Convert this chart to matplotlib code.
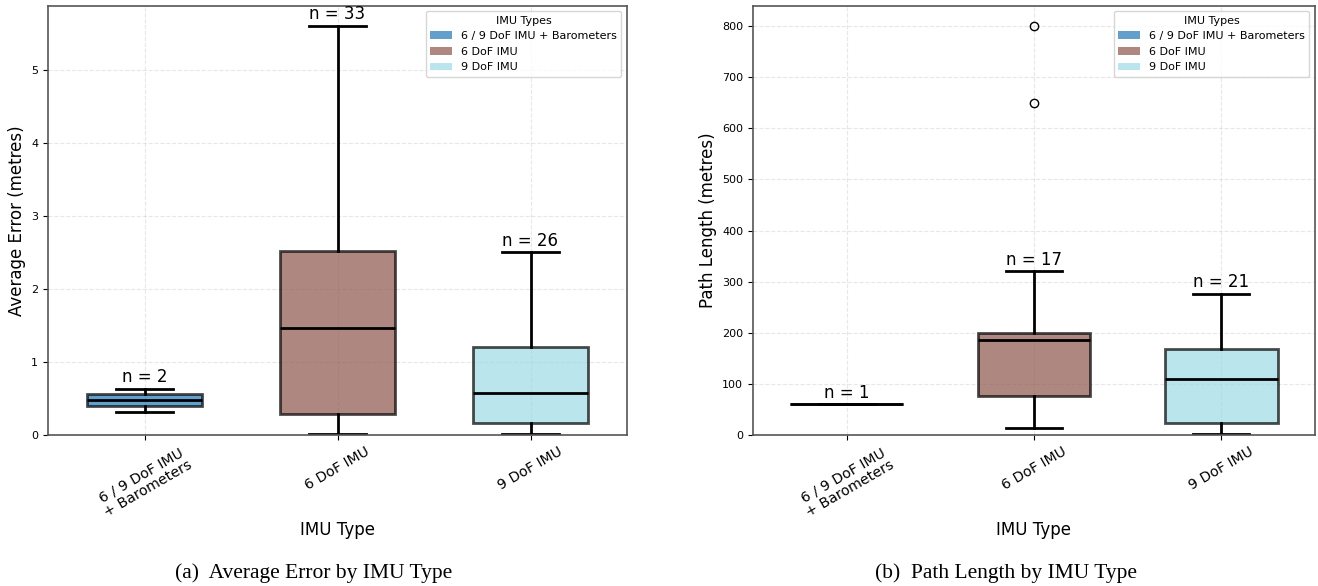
import matplotlib
matplotlib.use("Agg")
import matplotlib.pyplot as plt
import matplotlib.patches as mpatches
import numpy as np

categories = ["6 / 9 DoF IMU\n+ Barometers", "6 DoF IMU", "9 DoF IMU"]
legend_labels = ["6 / 9 DoF IMU + Barometers", "6 DoF IMU", "9 DoF IMU"]

# Average error (metres): whislo, q1, median, q3, whishi
err_whislo = [0.32, 0.02, 0.01]
err_q1 = [0.40, 0.29, 0.16]
err_med = [0.48, 1.46, 0.57]
err_q3 = [0.56, 2.52, 1.21]
err_whishi = [0.63, 5.60, 2.50]
err_fliers = [[], [], []]
err_n = [2, 33, 26]

# Path length (metres)
path_whislo = [60, 14, 1.5]
path_q1 = [60, 76, 23]
path_med = [60, 185, 110]
path_q3 = [60, 200, 168]
path_whishi = [60, 320, 276]
path_fliers = [[], [650, 800], []]
path_n = [1, 17, 21]

colors = plt.cm.tab20(np.linspace(0, 1, 3))

W, H = 1318, 586
fig = plt.figure(figsize=(W / 100, H / 100), dpi=100)

def make_stats(lo, q1, med, q3, hi, fl):
    return [dict(whislo=a, q1=b, med=c, q3=d, whishi=e, fliers=f)
            for a, b, c, d, e, f in zip(lo, q1, med, q3, hi, fl)]

def draw(ax, stats, ns, ylim, yticks, ylabel):
    pos = np.arange(len(stats))
    bp = ax.bxp(stats, positions=pos, widths=0.6, capwidths=0.3,
                patch_artist=True, showfliers=True,
                boxprops=dict(linewidth=2),
                whiskerprops=dict(color='black', linewidth=2),
                capprops=dict(color='black', linewidth=2),
                medianprops=dict(color='black', linewidth=2),
                flierprops=dict(marker='o', markerfacecolor='none',
                                markeredgecolor='black', markersize=6))
    for patch, c in zip(bp['boxes'], colors):
        patch.set_facecolor(c)
        patch.set_edgecolor('black')
        patch.set_alpha(0.7)
    for p, s, n in zip(pos, stats, ns):
        ax.annotate(f"n = {n}", (p, s['whishi']), xytext=(0, 2),
                    textcoords='offset points', ha='center', va='bottom',
                    fontsize=12)
    ax.set_xlim(-0.5, 2.5)
    ax.set_ylim(*ylim)
    ax.set_yticks(yticks)
    ax.set_xticks(pos)
    ax.set_xticklabels(categories, rotation=30, ha='center', fontsize=10.2,
                       linespacing=1.05)
    ax.tick_params(axis='y', labelsize=8)
    ax.set_xlabel("IMU Type", fontsize=12, labelpad=1)
    ax.set_ylabel(ylabel, fontsize=12)
    ax.grid(True, linestyle='--', alpha=0.3)
    ax.set_axisbelow(True)
    for sp in ax.spines.values():
        sp.set_color('#555555')
        sp.set_linewidth(1.2)
    handles = [mpatches.Patch(facecolor=c, alpha=0.7, label=l)
               for c, l in zip(colors, legend_labels)]
    ax.legend(handles=handles, title="IMU Types", loc='upper right',
              fontsize=8, title_fontsize=8)

ax1 = fig.add_axes([48 / W, 1 - 435 / H, (627 - 48) / W, (435 - 5.7) / H])
ax2 = fig.add_axes([753 / W, 1 - 435 / H, (1315 - 753) / W, (435 - 5.7) / H])

draw(ax1, make_stats(err_whislo, err_q1, err_med, err_q3, err_whishi, err_fliers),
     err_n, (0, 5.88), np.arange(0, 6, 1), "Average Error (metres)")
draw(ax2, make_stats(path_whislo, path_q1, path_med, path_q3, path_whishi, path_fliers),
     path_n, (0, 840), np.arange(0, 900, 100), "Path Length (metres)")

fig.text(314 / W, 1 - 573 / H, "(a)  Average Error by IMU Type",
         family='Liberation Serif', fontsize=15.5, ha='center', va='center')
fig.text(1006 / W, 1 - 573 / H, "(b)  Path Length by IMU Type",
         family='Liberation Serif', fontsize=15.5, ha='center', va='center')

fig.savefig("out.png", dpi=100)
